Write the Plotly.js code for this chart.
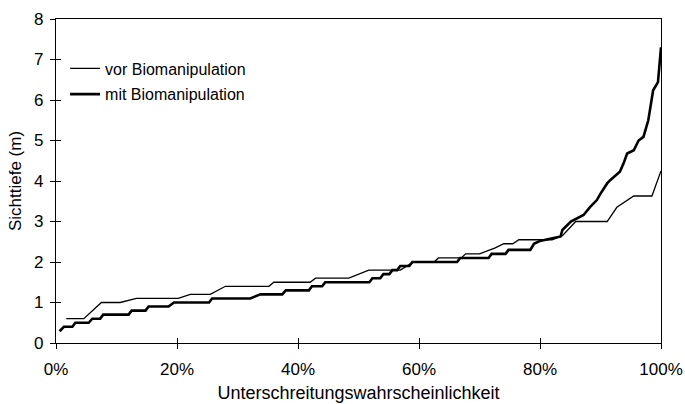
<!DOCTYPE html>
<html>
<head>
<meta charset="utf-8">
<script src="https://cdn.plot.ly/plotly-3.0.1.min.js"></script>
<style>html,body{margin:0;padding:0;background:#fff;}#chart{width:685px;height:404px;}</style>
</head>
<body>
<div id="chart"></div>
<script>
// Unterschreitungswahrscheinlichkeit (%) and Sichttiefe (m)
const vorP = [1.7, 4.6, 7.5, 10.6, 13.3, 20.2, 22.2, 25.5, 28, 35.2, 36, 42, 42.9, 48.4, 51.7, 56.9, 59.1, 62.5, 63.2, 67, 67.7, 70, 72.6, 74, 75.5, 76.5, 82, 83.7, 85.9, 91.1, 92.7, 95.5, 98.5, 100];
const vorV = [0.6, 0.6, 1.0, 1.0, 1.1, 1.1, 1.2, 1.2, 1.4, 1.4, 1.5, 1.5, 1.6, 1.6, 1.8, 1.8, 2.0, 2.0, 2.1, 2.1, 2.2, 2.2, 2.35, 2.45, 2.45, 2.55, 2.55, 2.65, 3.0, 3.0, 3.35, 3.63, 3.63, 4.25];

const mitP = [0.6, 1.3, 2.7, 3.2, 5.4, 6, 7.3, 7.8, 12, 12.5, 14.8, 15.3, 18.6, 19.5, 25.3, 25.8, 32.1, 33.8, 37.4, 38, 41.8, 42.3, 44, 44.5, 51.8, 52.3, 53.6, 54.1, 55.1, 55.6, 56.4, 56.9, 58.4, 58.9, 66.3, 66.8, 71.5, 72, 74.3, 74.8, 78.4, 79, 80, 83.4, 83.7, 85.1, 87.2, 88.3, 89.4, 90, 91.1, 91.6, 93.2, 93.8, 94.4, 95.5, 96.3, 97.1, 97.9, 98.7, 99.5, 99.8, 100];
const mitV = [0.29, 0.4, 0.4, 0.5, 0.5, 0.6, 0.6, 0.7, 0.7, 0.8, 0.8, 0.9, 0.9, 1.0, 1.0, 1.1, 1.1, 1.2, 1.2, 1.3, 1.3, 1.4, 1.4, 1.5, 1.5, 1.6, 1.6, 1.7, 1.7, 1.8, 1.8, 1.9, 1.9, 2.0, 2.0, 2.1, 2.1, 2.2, 2.2, 2.3, 2.3, 2.45, 2.52, 2.63, 2.79, 3.0, 3.16, 3.36, 3.53, 3.69, 3.94, 4.02, 4.23, 4.43, 4.68, 4.76, 5.0, 5.09, 5.5, 6.24, 6.44, 7.1, 7.3];

const seriesNames = ["vor Biomanipulation", "mit Biomanipulation"];
const xTicks = [0, 20, 40, 60, 80, 100];
const yTicks = [0, 1, 2, 3, 4, 5, 6, 7, 8];

const FONT = "Liberation Sans, Arial, sans-serif";

const traces = [
  {x: vorP, y: vorV, type: "scatter", mode: "lines", name: seriesNames[0],
   line: {color: "#000", width: 1.3}, legendgroup: "a"},
  {x: mitP, y: mitV, type: "scatter", mode: "lines", name: seriesNames[1],
   line: {color: "#000", width: 2.6}, legendgroup: "b"},
  // invisible helper trace so the inner-tick overlay axes are drawn
  {x: [xTicks[0]], y: [yTicks[0]], type: "scatter", mode: "markers", xaxis: "x2", yaxis: "y2",
   marker: {opacity: 0, size: 1}, showlegend: false, hoverinfo: "skip"}
];

const layout = {
  width: 685, height: 404,
  margin: {l: 56, r: 24, t: 19, b: 61},
  paper_bgcolor: "#fff", plot_bgcolor: "#fff",
  font: {family: FONT, size: 17, color: "#000"},
  showlegend: true,
  legend: {x: 0.015, y: 0.9, xanchor: "left", yanchor: "top",
           font: {family: FONT, size: 16, color: "#000"},
           bgcolor: "rgba(0,0,0,0)", itemwidth: 30, tracegroupgap: 2,
           traceorder: "grouped"},
  xaxis: {range: [0, 100], tickvals: xTicks, ticktext: xTicks.map(v => v + "%"),
          showgrid: false, zeroline: false, showline: true, linecolor: "#000",
          linewidth: 1.2, mirror: true, ticks: "outside", ticklen: 5, tickcolor: "#000",
          ticklabelstandoff: 5,
          tickfont: {family: FONT, size: 17},
          title: {text: "Unterschreitungswahrscheinlichkeit", font: {family: FONT, size: 18}, standoff: 8}},
  yaxis: {range: [0, 8], tickvals: yTicks,
          showgrid: false, zeroline: false, showline: true, linecolor: "#000",
          linewidth: 1.2, mirror: true, ticks: "outside", ticklen: 5, tickcolor: "#000",
          ticklabelstandoff: 3,
          tickfont: {family: FONT, size: 17},
          title: {text: "Sichttiefe (m)", font: {family: FONT, size: 17}, standoff: 8}},
  xaxis2: {overlaying: "x", range: [0, 100], tickvals: xTicks, showticklabels: false,
           ticks: "inside", ticklen: 5, tickcolor: "#000", tickwidth: 1, side: "bottom",
           showgrid: false, zeroline: false, showline: false},
  yaxis2: {overlaying: "y", range: [0, 8], tickvals: yTicks, showticklabels: false,
           ticks: "inside", ticklen: 5, tickcolor: "#000", tickwidth: 1, side: "left",
           showgrid: false, zeroline: false, showline: false}
};

Plotly.newPlot("chart", traces, layout, {staticPlot: true, displayModeBar: false});
</script>
</body>
</html>
